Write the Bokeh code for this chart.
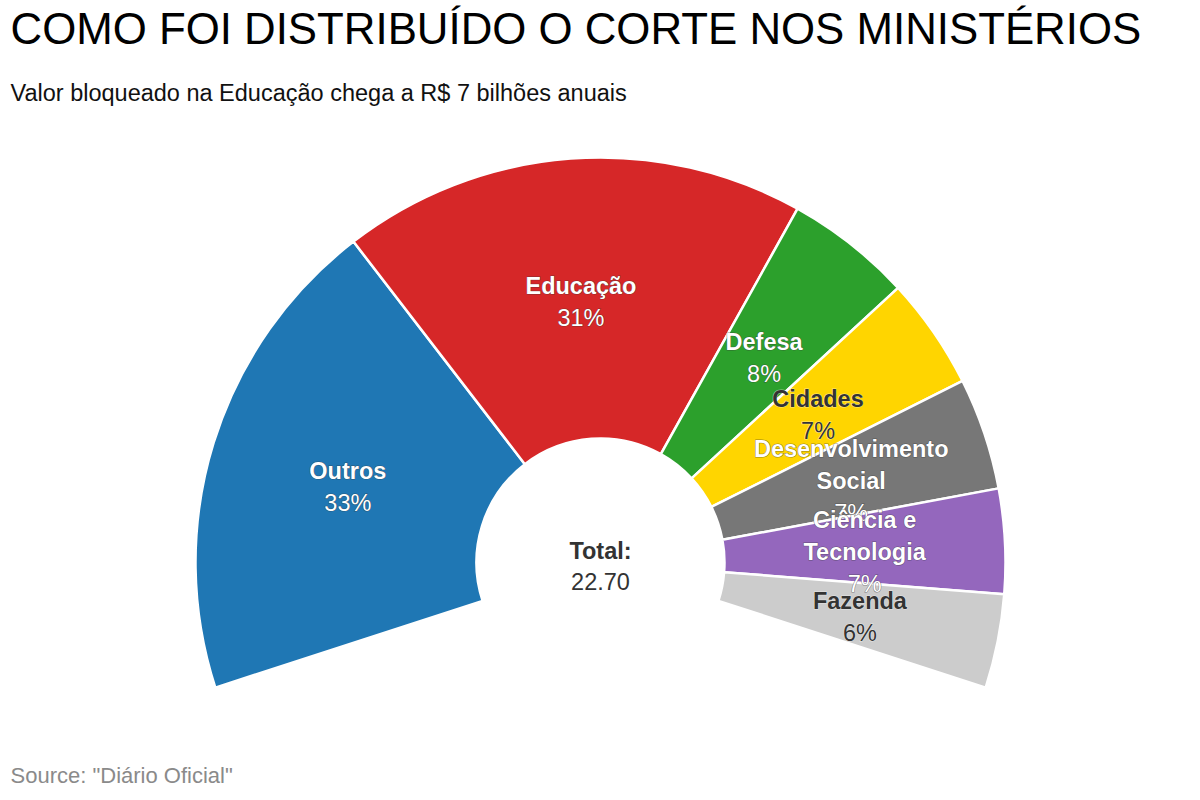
import math
from bokeh.plotting import figure
from bokeh.models import Range1d, ColumnDataSource, Text
from bokeh.core.properties import value
from bokeh.embed import file_html
from bokeh.resources import INLINE

# ---------------- data ----------------
title_text = "COMO FOI DISTRIBUÍDO O CORTE NOS MINISTÉRIOS"
subtitle_text = "Valor bloqueado na Educação chega a R$ 7 bilhões anuais"
source_text = 'Source: "Diário Oficial"'
categories = ["Outros", "Educação", "Defesa", "Cidades",
              "Desenvolvimento Social", "Ciência e Tecnologia", "Fazenda"]
label_lines = [["Outros"], ["Educação"], ["Defesa"], ["Cidades"],
               ["Desenvolvimento", "Social"], ["Ciência e", "Tecnologia"], ["Fazenda"]]
values = [7.40, 7.01, 1.91, 1.69, 1.69, 1.58, 1.42]
colors = ["#1f77b4", "#d62728", "#2ca02c", "#ffd500", "#777777", "#9467bd", "#cccccc"]
text_dark = [False, False, False, True, False, False, True]

# ---------------- geometry ----------------
W, H = 1200, 800
def Y(py):
    return H - py

CX, CY = 600, Y(562)
R_OUT, R_IN = 405, 124
START_DEG, SPAN_DEG = 198.0, 216.0
LINE = 32
LABEL_DROP = 3
FONT = value("Liberation Sans")

p = figure(width=W, height=H, output_backend="svg", toolbar_location=None,
           x_range=Range1d(0, W), y_range=Range1d(0, H),
           min_border=0, outline_line_color=None, background_fill_color="white",
           border_fill_color="white")
p.axis.visible = False
p.xgrid.visible = False
p.ygrid.visible = False

total = sum(values)
starts, ends, mids = [], [], []
cum = 0.0
for v in values:
    a0 = START_DEG - cum / total * SPAN_DEG
    cum += v
    a1 = START_DEG - cum / total * SPAN_DEG
    starts.append(math.radians(a1))
    ends.append(math.radians(a0))
    mids.append(math.radians((a0 + a1) / 2))

wsrc = ColumnDataSource(dict(x=[CX] * len(values), y=[CY] * len(values),
                             start=starts, end=ends, color=colors, cat=categories))
p.annular_wedge(x="x", y="y", inner_radius=R_IN, outer_radius=R_OUT,
                start_angle="start", end_angle="end", fill_color="color",
                line_color="white", line_width=2.5, source=wsrc)

has_outline = "text_outline_color" in Text.properties()

def put_text(xs, ys, texts, color, style, size="23.5px", halo=None, align="center",
             baseline="middle"):
    kw = dict(text_font=FONT, text_font_size=size, text_font_style=style,
              text_align=align, text_baseline=baseline)
    if halo is not None and has_outline:
        p.text(x=xs, y=ys, text=texts, text_color=halo, text_alpha=0.5,
               text_outline_color=halo, **kw)
    p.text(x=xs, y=ys, text=texts, text_color=color, **kw)

# slice labels
for i, v in enumerate(values):
    r_lab = (R_IN + R_OUT) / 2
    lx = CX + r_lab * math.cos(mids[i])
    ly = CY + r_lab * math.sin(mids[i]) - LABEL_DROP
    lines = label_lines[i]
    n = len(lines)
    pct = f"{round(v / total * 100):.0f}%"
    if text_dark[i]:
        col, halo = "#333333", "#ffffff"
    else:
        col, halo = "#ffffff", "#333333"
    for k, t in enumerate(lines):
        put_text([lx], [ly - (k - n / 2) * LINE], [t], col, "bold", halo=halo)
    put_text([lx], [ly - (n - n / 2) * LINE], [pct], col, "normal", halo=halo)

# centre total
put_text([CX], [Y(550)], ["Total:"], "#333333", "bold")
put_text([CX], [Y(581)], [f"{total:.2f}"], "#333333", "normal")

# titles
put_text([10], [Y(28)], [title_text], "#000000", "normal", size="43.8px", align="left")
put_text([10], [Y(92)], [subtitle_text], "#111111", "normal", size="23.5px", align="left")
put_text([10], [Y(775)], [source_text], "#8a8a8a", "normal", size="22px", align="left")

open("out.html", "w").write(file_html(p, INLINE))
